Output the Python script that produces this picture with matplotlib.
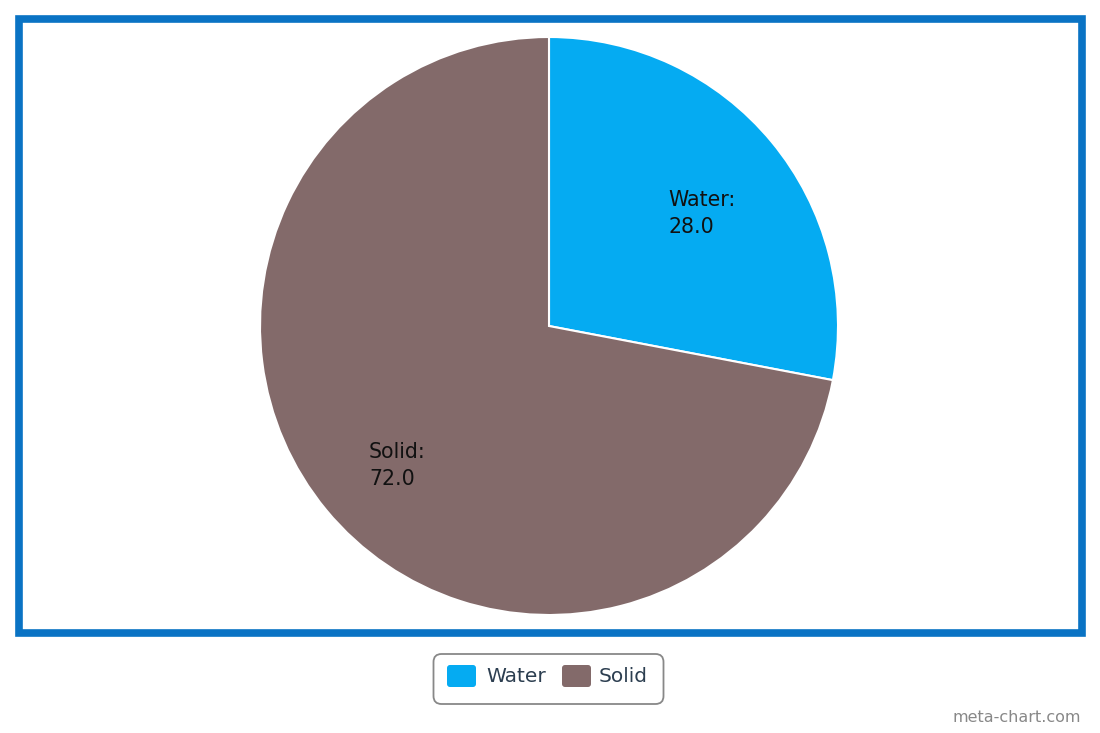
import matplotlib.pyplot as plt
from matplotlib.patches import Rectangle, FancyBboxPatch

# data
labels = ["Water", "Solid"]
values = [28.0, 72.0]
colors = ["#05abf2", "#836a6a"]

W, H = 1100, 733
fig = plt.figure(figsize=(W / 100, H / 100), dpi=100)
ax = fig.add_axes([0, 0, 1, 1])

# pie (pixel coords, y flipped so 0 is bottom)
cx, cy, r = 549, H - 326, 289
wedges, _ = ax.pie(values, colors=colors, startangle=90, counterclock=False,
                   center=(cx, cy), radius=r, frame=True,
                   wedgeprops=dict(edgecolor="white", linewidth=1.5))

# slice labels
label_pos = [(668, 190), (369, 442)]
for (lx, ly), lab, v in zip(label_pos, labels, values):
    ax.text(lx, H - ly, f"{lab}:\n{v:.1f}", fontsize=14.8, color="#111111",
            ha="left", va="top", linespacing=1.45)

# blue frame
ax.add_patch(Rectangle((18.5, H - 632.5), 1063, 614, fill=False,
                       edgecolor="#0a73c4", linewidth=5.5))

# legend box
ax.add_patch(FancyBboxPatch((433.5, H - 704), 230, 50,
                            boxstyle="round,pad=0,rounding_size=8",
                            facecolor="white", edgecolor="#888888", linewidth=1.3))
legend_x = [(447, 486), (562, 599)]
for (px, tx), lab, c in zip(legend_x, labels, colors):
    ax.add_patch(FancyBboxPatch((px, H - 687), 29, 22,
                                boxstyle="round,pad=0,rounding_size=3",
                                facecolor=c, edgecolor="none"))
    ax.text(tx, H - 677, lab, fontsize=14.5, color="#2c3e50", ha="left", va="center")

ax.text(1081, H - 718, "meta-chart.com", fontsize=11.5, color="#888888",
        ha="right", va="center")

ax.set_xlim(0, W)
ax.set_ylim(0, H)
ax.set_aspect("auto")
ax.axis("off")

fig.savefig("out.png", dpi=100)
